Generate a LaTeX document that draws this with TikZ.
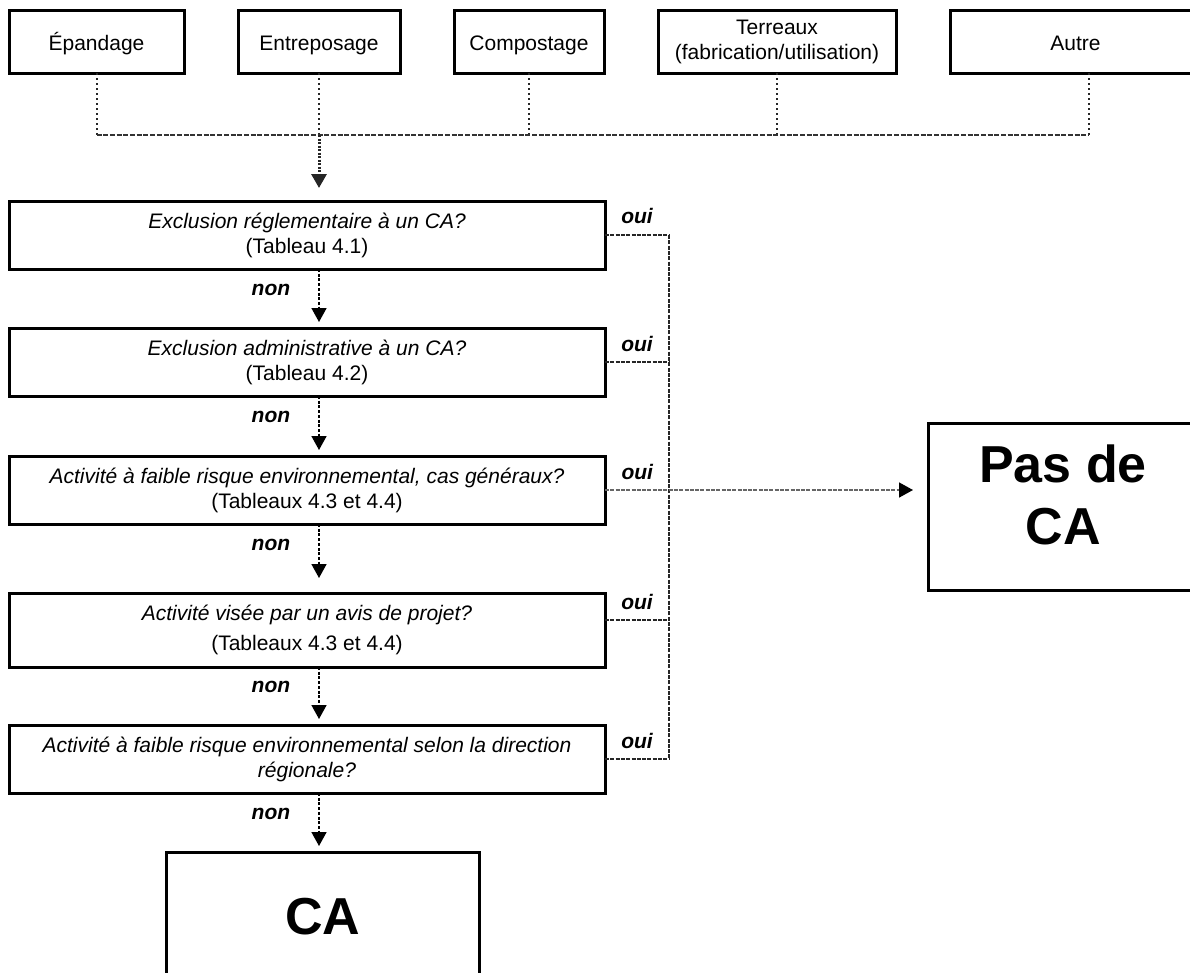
\documentclass[tikz,border=0pt]{standalone}
\usepackage{fontspec}
\setmainfont{Liberation Sans}
\usetikzlibrary{arrows.meta, positioning}

\begin{document}
\begin{tikzpicture}[
    x=1pt, y=-1pt,
    catbox/.style={draw, rectangle, line width=3pt, outer sep=0pt,
                   minimum height=63pt, align=center,
                   font=\fontsize{21}{25}\selectfont},
    oneline/.style={text height=17pt, text depth=0pt},
    qbox/.style={draw, rectangle, line width=3pt, outer sep=0pt,
                 minimum width=596pt, minimum height=68pt, align=center,
                 font=\fontsize{21}{25}\selectfont},
    endbox/.style={draw, rectangle, line width=3pt, outer sep=0pt,
                   align=center, font=\fontsize{52}{62}\selectfont\bfseries},
    bigtxt/.style={align=center, font=\fontsize{52}{62}\selectfont\bfseries},
    dotline/.style={line width=2pt, dash pattern=on 2pt off 3pt, color=black!85},
    busline/.style={line width=1.6pt, dash pattern=on 5pt off 1.7pt, color=black!80},
    dotarw/.style={-{Triangle[length=14pt,width=15pt]}, line width=3pt,
                   dash pattern=on 2pt off 1.5pt, color=black!85},
    nonarw/.style={-{Triangle[length=14pt,width=15pt]}, line width=1.6pt,
                   dash pattern=on 3pt off 1.7pt, shorten >=6pt},
    ouiline/.style={line width=1.6pt, dash pattern=on 4pt off 1.3pt, color=black!85},
    ouiarw/.style={-{Triangle[length=14pt,width=15pt,color=black]}, line width=1.6pt,
                   dash pattern=on 4pt off 1.3pt, color=black!60, shorten >=15pt},
    lbl/.style={font=\fontsize{21}{25}\selectfont\bfseries\itshape, inner sep=2pt, text=black}
  ]
    \useasboundingbox (0,0) rectangle (1190,972);

    \node[catbox, oneline, minimum width=175pt]                      (epand) at (96.5,41.5) {Épandage};
    \node[catbox, oneline, minimum width=162pt, right=54pt of epand] (entre) {Entreposage};
    \node[catbox, oneline, minimum width=150pt, right=54pt of entre] (compo) {Compostage};
    \node[catbox, minimum width=238pt, right=54pt of compo]          (terre) {Terreaux\\(fabrication/utilisation)};
    \node[catbox, oneline, minimum width=251pt, right=54pt of terre] (autre) {Autre};

    \coordinate (jn)     at ([yshift=-62pt]entre.south);
    \coordinate (autrex) at ([xshift=13pt]autre.south);

    \draw[dotline] (epand.south) -- (epand.south |- jn);
    \draw[dotline] (entre.south) -- (jn);
    \draw[dotline] (compo.south) -- (compo.south |- jn);
    \draw[dotline] (terre.south) -- (terre.south |- jn);
    \draw[dotline] (autrex) -- (autrex |- jn);
    \draw[busline] (epand.south |- jn) -- (autrex |- jn);

    \node[qbox] (q1) at (307,235)
        {\textit{Exclusion réglementaire à un CA?}\\(Tableau 4.1)};
    \node[qbox, below=59pt of q1] (q2)
        {\textit{Exclusion administrative à un CA?}\\(Tableau 4.2)};
    \node[qbox, below=60pt of q2] (q3)
        {\textit{Activité à faible risque environnemental, cas généraux?}\\(Tableaux 4.3 et 4.4)};
    \node[qbox, minimum height=74pt, below=69pt of q3] (q4)
        {\textit{Activité visée par un avis de projet?}\\[5pt](Tableaux 4.3 et 4.4)};
    \node[qbox, below=58pt of q4] (q5)
        {\textit{Activité à faible risque environnemental selon la direction}\\\textit{régionale?}};

    \node[endbox, minimum width=270pt, minimum height=167pt, anchor=north west,
          label={[bigtxt, yshift=12pt]center:Pas de\\CA}] (pasca) at (928,423) {};
    \node[endbox, minimum width=313pt, minimum height=130pt,
          anchor=north] (ca) at (323,852) {CA};

    \draw[dotarw, shorten >=13pt] (jn) -- (jn |- q1.north);
    \draw[nonarw] (q1.south -| jn) -- (q2.north -| jn) node[pos=0.35, left=26pt, lbl] {non};
    \draw[nonarw] (q2.south -| jn) -- (q3.north -| jn) node[pos=0.35, left=26pt, lbl] {non};
    \draw[nonarw, shorten >=15pt] (q3.south -| jn) -- (q4.north -| jn) node[pos=0.3, left=26pt, lbl] {non};
    \draw[nonarw] (q4.south -| jn) -- (q5.north -| jn) node[pos=0.35, left=26pt, lbl] {non};
    \draw[nonarw] (q5.south -| jn) -- (ca.north -| jn) node[pos=0.35, left=26pt, lbl] {non};

    \coordinate (bus) at ([xshift=64pt]q1.east);
    \coordinate (q4o) at ([yshift=10pt]q4.east);
    \draw[ouiline] (q1.east) -- (q1.east -| bus) node[midway, above=8pt, lbl] {oui};
    \draw[ouiline] (q2.east) -- (q2.east -| bus) node[midway, above=8pt, lbl] {oui};
    \draw[ouiline] (q4o) -- (q4o -| bus) node[midway, above=8pt, lbl] {oui};
    \draw[ouiline] (q5.east) -- (q5.east -| bus) node[midway, above=8pt, lbl] {oui};
    \draw[ouiline] (q1.east -| bus) -- (q5.east -| bus);
    \draw[ouiarw] (q3.east) -- (q3.east -| pasca.west) node[pos=0.1, above=8pt, lbl] {oui};
  \end{tikzpicture}
\end{document}
